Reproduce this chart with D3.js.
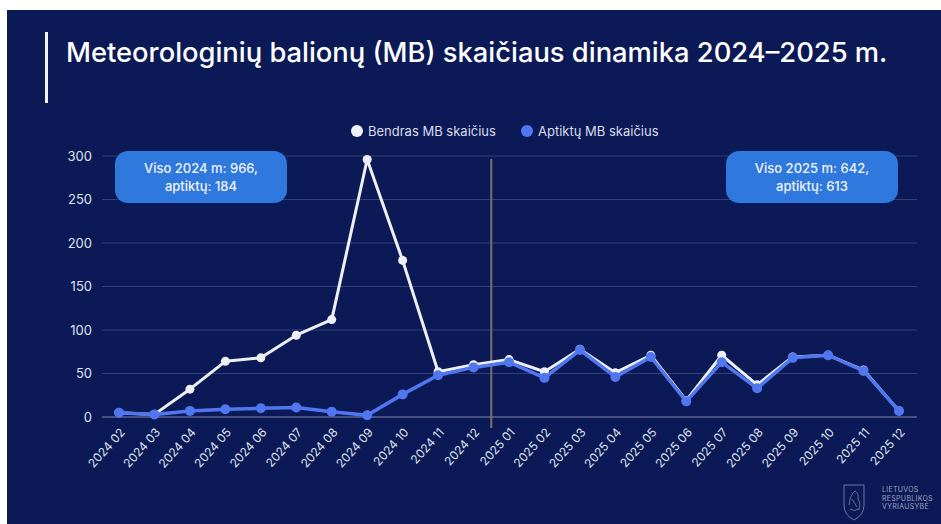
<!DOCTYPE html>
<html>
<head>
<meta charset="utf-8">
<script src="https://cdn.jsdelivr.net/npm/d3@7"></script>
<style>
	html, body { margin:0; padding:0; background:#fff; }
	svg { display:block; font-family: Inter, "Noto Sans", sans-serif; }
</style>
</head>
<body>
<div id="chart"></div>
<script>

//data
const months = ["2024 02","2024 03","2024 04","2024 05","2024 06","2024 07","2024 08","2024 09","2024 10","2024 11","2024 12",
	"2025 01","2025 02","2025 03","2025 04","2025 05","2025 06","2025 07","2025 08","2025 09","2025 10","2025 11","2025 12"];
const bendras = [5,3,32,64,68,94,112,296,180,52,60, 66,52,78,51,71,19,71,37,69,71,54,7];
const aptikta = [5,3,7,9,10,11,6,2,26,48,57, 63,45,77,46,69,18,63,33,68,71,53,7];
const yTicks = [0,50,100,150,200,250,300];
const seriesNames = ["Bendras MB skaičius", "Aptiktų MB skaičius"];
const seriesColors = ["#eef0f6", "#5077f0"];
const notes2024 = ["Viso 2024 m: 966,", "aptiktų: 184"];
const notes2025 = ["Viso 2025 m: 642,", "aptiktų: 613"];
const titleText = "Meteorologinių balionų (MB) skaičiaus dinamika 2024–2025 m.";
const logoLines = ["LIETUVOS", "RESPUBLIKOS", "VYRIAUSYBĖ"];


function graph1(){

	const width = 941;
	const height = 524;

	let svg = d3.select("#chart")
		.append("svg")
		.attr("width", width)
		.attr("height", height);

	//navy panel
	svg.append("rect")
		.attr("x", 7)
		.attr("y", 10)
		.attr("width", width - 7)
		.attr("height", height - 10)
		.attr("fill", "#0b1a56");

	//title with white bar
	svg.append("rect")
		.attr("x", 45)
		.attr("y", 32)
		.attr("width", 3)
		.attr("height", 71)
		.attr("fill", "#f4f4f8");

	let title = svg.append("text")
		.attr("x", 66)
		.attr("y", 62)
		.attr("fill", "#ffffff")
		.attr("font-size", 26)
		.attr("font-weight", 500)
		.text(titleText);
	//fit to the width of the original title
	let tw = title.node().getComputedTextLength();
	title.attr("font-size", 26 * 822 / tw);

	//scales
	let x = d3.scalePoint()
		.domain(months)
		.range([119, 899]);

	let y = d3.scaleLinear()
		.domain([0, 300])
		.range([417, 156]);

	//grid
	svg.append("g")
		.selectAll("line")
		.data(yTicks)
		.enter().append("line")
		.attr("x1", 102)
		.attr("x2", 917)
		.attr("y1", d => y(d))
		.attr("y2", d => y(d))
		.attr("stroke", d => d === 0 ? "#5d6590" : "#343f75")
		.attr("stroke-width", d => d === 0 ? 1.5 : 1);

	//y axis labels
	let yAxis = d3.axisLeft(y)
		.tickValues(yTicks)
		.tickSize(0)
		.tickPadding(0);

	svg.append("g")
		.attr("transform", "translate(92,0)")
		.call(yAxis)
		.call(g => g.select(".domain").remove())
		.selectAll("text")
		.attr("fill", "#dfe2ee")
		.attr("font-size", 13)
		.attr("font-family", "Inter, sans-serif");

	//x axis labels, rotated
	let xAxis = d3.axisBottom(x).tickSize(0).tickPadding(0);

	svg.append("g")
		.attr("transform", "translate(0,417)")
		.call(xAxis)
		.call(g => g.select(".domain").remove())
		.selectAll("text")
		.attr("fill", "#dfe2ee")
		.attr("font-size", 12)
		.attr("font-family", "Inter, sans-serif")
		.attr("text-anchor", "end")
		.attr("y", 0)
		.attr("dy", "0.35em")
		.attr("transform", "translate(3,13) rotate(-48)");

	//divider between the two years
	let xDiv = (x("2024 12") + x("2025 01")) / 2;
	svg.append("line")
		.attr("x1", xDiv)
		.attr("x2", xDiv)
		.attr("y1", 159)
		.attr("y2", 428)
		.attr("stroke", "#7e6f63")
		.attr("stroke-width", 2);

	//lines
	let line = d3.line()
		.x((d, i) => x(months[i]))
		.y(d => y(d));

	[bendras, aptikta].forEach(function(series, k){
		let g = svg.append("g");
		g.append("path")
			.datum(series)
			.attr("d", line)
			.attr("fill", "none")
			.attr("stroke", seriesColors[k])
			.attr("stroke-width", k === 0 ? 3 : 3.5)
			.attr("stroke-linejoin", "round");

		g.selectAll("circle")
			.data(series)
			.enter().append("circle")
			.attr("cx", (d, i) => x(months[i]))
			.attr("cy", d => y(d))
			.attr("r", k === 0 ? 4.5 : 5)
			.attr("fill", seriesColors[k]);
	});

	//legend
	let legendX = [357, 527];
	seriesNames.forEach(function(name, k){
		svg.append("circle")
			.attr("cx", legendX[k])
			.attr("cy", 131)
			.attr("r", 6)
			.attr("fill", seriesColors[k]);
		svg.append("text")
			.attr("x", legendX[k] + 11)
			.attr("y", 131)
			.attr("dy", "0.35em")
			.attr("fill", "#d9dcea")
			.attr("font-size", 13)
			.text(name);
	});

	//annotation boxes
	function addNote(cx, lines){
		svg.append("rect")
			.attr("x", cx - 86)
			.attr("y", 151)
			.attr("width", 172)
			.attr("height", 52)
			.attr("rx", 13)
			.attr("fill", "#2f78de");
		lines.forEach(function(t, i){
			svg.append("text")
				.attr("x", cx)
				.attr("y", 168 + i * 18)
				.attr("dy", "0.35em")
				.attr("text-anchor", "middle")
				.attr("fill", "#eef3fd")
				.attr("font-size", 13)
				.attr("font-weight", 500)
				.text(t);
		});
	}
	addNote(201, notes2024);
	addNote(812, notes2025);

	//logo, bottom right
	let logo = svg.append("g").attr("transform", "translate(844,483)");
	logo.append("path")
		.attr("d", "M0,2 L20,2 L20,22 Q20,32 10,37 Q0,32 0,22 Z")
		.attr("fill", "none")
		.attr("stroke", "#8a8fab")
		.attr("stroke-width", 0.8);
	logo.append("path")
		.attr("d", "M5,22 Q6,12 11,8 Q15,10 14,16 Q17,20 15,27 M8,16 L13,24 M6,26 Q10,29 15,26")
		.attr("fill", "none")
		.attr("stroke", "#8a8fab")
		.attr("stroke-width", 0.7);
	logoLines.forEach(function(t, i){
		svg.append("text")
			.attr("x", 882)
			.attr("y", 490 + i * 8.5)
			.attr("dy", "0.35em")
			.attr("fill", "#9da3bd")
			.attr("font-size", 7)
			.attr("letter-spacing", 0.3)
			.text(t);
	});

} //function graph1

graph1();
</script>
</body>
</html>
